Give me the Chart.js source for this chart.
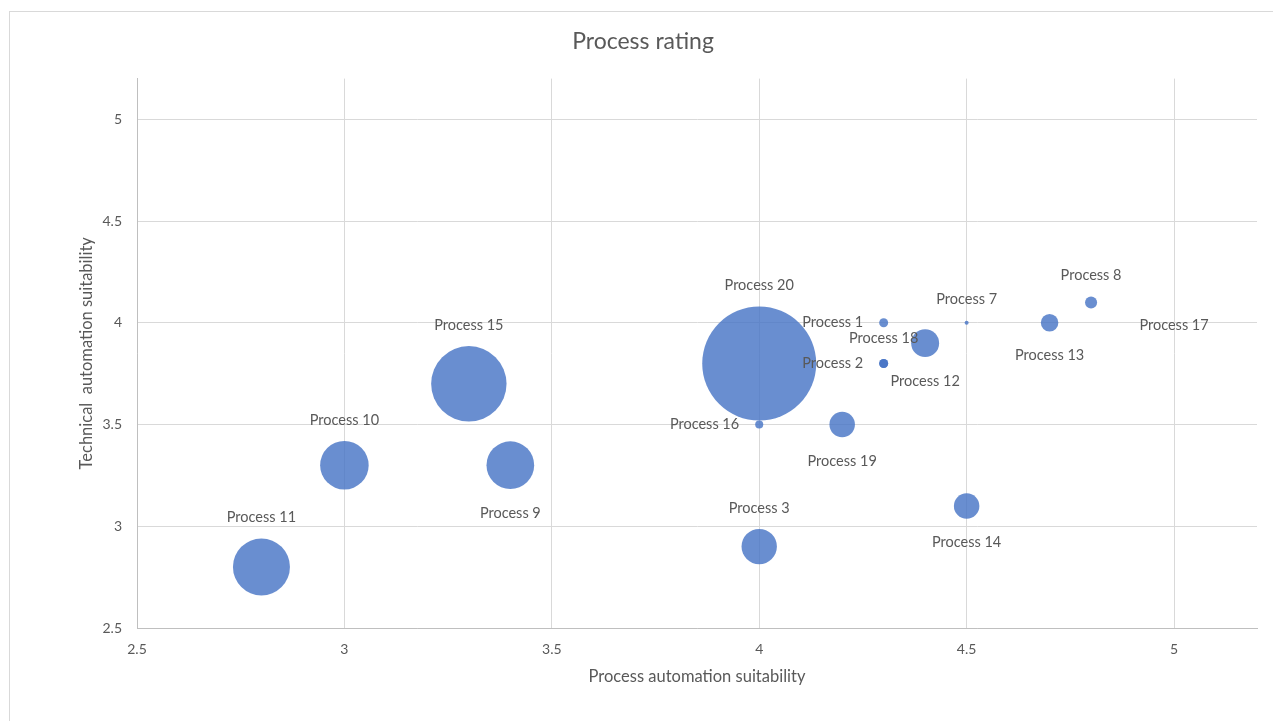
<!DOCTYPE html>
<html>
<head>
<meta charset="utf-8">
<title>Process rating</title>
<script src="https://cdn.jsdelivr.net/npm/chart.js@4.4.1/dist/chart.umd.min.js"></script>
<style>
  html, body { margin: 0; padding: 0; background: #ffffff; }
  #wrap { width: 1273px; height: 721px; }
</style>
</head>
<body>
<div id="wrap"><canvas id="myChart" width="1273" height="721"></canvas></div>
<script>
// chart values
const processes = ['Process 1', 'Process 2', 'Process 3', 'Process 7', 'Process 8', 'Process 9',
    'Process 10', 'Process 11', 'Process 12', 'Process 13', 'Process 14', 'Process 15',
    'Process 16', 'Process 17', 'Process 18', 'Process 19', 'Process 20'];
const processAutomation = [4.3, 4.3, 4.0, 4.5, 4.8, 3.4, 3.0, 2.8, 4.4, 4.7, 4.5, 3.3, 4.0, 5.0, 4.3, 4.2, 4.0];
const technicalAutomation = [4.0, 3.8, 2.9, 4.0, 4.1, 3.3, 3.3, 2.8, 3.9, 4.0, 3.1, 3.7, 3.5, 4.0, 3.8, 3.5, 3.8];
const bubbleSize = [5, 5, 77, 1, 9, 140, 145, 200, 48, 19, 40, 350, 4, 0, 5, 40, 800];
// where each data label sits relative to its bubble
const labelPos = ['left', 'left', 'above', 'above', 'above', 'below', 'above', 'above', 'below',
    'below', 'below', 'above', 'left', 'center', 'above', 'below', 'above'];
const xTicks = [2.5, 3, 3.5, 4, 4.5, 5];
const yTicks = [2.5, 3, 3.5, 4, 4.5, 5];

const FONT = 'Lato, "Open Sans", sans-serif';
const TEXT = '#595959';
const GRID = '#d9d9d9';
const AXIS = '#bfbfbf';
const MAX_R = 57;

const maxSize = Math.max(...bubbleSize);
let points = processAutomation.map(function (x, i) {
    return { x: x, y: technicalAutomation[i], r: MAX_R * Math.sqrt(bubbleSize[i] / maxSize) };
});

// light frame around the chart, like the Excel chart area
const frame = {
    id: 'frame',
    beforeDraw(chart) {
        let ctx = chart.ctx;
        ctx.save();
        ctx.fillStyle = '#ffffff';
        ctx.fillRect(0, 0, chart.width, chart.height);
        ctx.strokeStyle = GRID;
        ctx.lineWidth = 1;
        ctx.strokeRect(9.5, 11.5, chart.width + 20, chart.height + 20);
        ctx.restore();
    }
};

// data labels next to the bubbles
const bubbleLabels = {
    id: 'bubbleLabels',
    afterDatasetsDraw(chart) {
        let ctx = chart.ctx;
        let meta = chart.getDatasetMeta(0);
        ctx.save();
        ctx.font = '14.5px ' + FONT;
        ctx.fillStyle = TEXT;
        ctx.textBaseline = 'middle';
        meta.data.forEach(function (el, i) {
            let r = points[i].r;
            let pos = labelPos[i];
            if (pos === 'above') {
                ctx.textAlign = 'center';
                ctx.fillText(processes[i], el.x, el.y - r - 21);
            } else if (pos === 'below') {
                ctx.textAlign = 'center';
                ctx.fillText(processes[i], el.x, el.y + r + 24);
            } else if (pos === 'left') {
                ctx.textAlign = 'right';
                ctx.fillText(processes[i], el.x - r - 16, el.y);
            } else {
                ctx.textAlign = 'center';
                ctx.fillText(processes[i], el.x, el.y + 3);
            }
        });
        ctx.restore();
    }
};

function keepTicks(list) {
    return function (scale) {
        scale.ticks = list.map(function (v) { return { value: v }; });
    };
}

let ctx = document.getElementById('myChart');
let ch = new Chart(ctx, {
    type: 'bubble',
    data: {
        datasets: [{
            label: 'Processes',
            data: points,
            backgroundColor: 'rgba(68, 114, 196, 0.8)',
            borderWidth: 0,
            hoverRadius: 0
        }]
    },
    options: {
        responsive: false,
        animation: false,
        events: [],
        layout: { autoPadding: false, padding: { left: 29, right: 16, top: 0, bottom: 0 } },
        plugins: {
            legend: { display: false },
            tooltip: { enabled: false },
            title: {
                display: true,
                text: 'Process rating',
                color: TEXT,
                font: { family: FONT, size: 23, weight: 'normal' },
                padding: { top: 28, bottom: 23 }
            }
        },
        scales: {
            x: {
                type: 'linear',
                min: 2.5,
                max: 5.2,
                afterBuildTicks: keepTicks(xTicks),
                afterFit(scale) { scale.height = 93; },
                ticks: {
                    color: TEXT, font: { family: FONT, size: 14 }, padding: 13, maxRotation: 0,
                    callback: function (v) { return String(v); }
                },
                grid: { color: GRID, drawTicks: false },
                border: { color: AXIS },
                title: {
                    display: true,
                    text: 'Process automation suitability',
                    color: TEXT,
                    font: { family: FONT, size: 16.5 },
                    padding: { top: 0, bottom: 34 }
                }
            },
            y: {
                type: 'linear',
                min: 2.5,
                max: 5.2,
                afterBuildTicks: keepTicks(yTicks),
                afterFit(scale) { scale.width = 108; },
                ticks: {
                    color: TEXT, font: { family: FONT, size: 14 }, padding: 15,
                    callback: function (v) { return String(v); }
                },
                grid: { color: GRID, drawTicks: false },
                border: { color: AXIS },
                title: {
                    display: true,
                    text: 'Technical  automation suitability',
                    color: TEXT,
                    font: { family: FONT, size: 16.5 },
                    padding: { top: 48, bottom: 0 }
                }
            }
        }
    },
    plugins: [frame, bubbleLabels]
});
</script>
</body>
</html>
